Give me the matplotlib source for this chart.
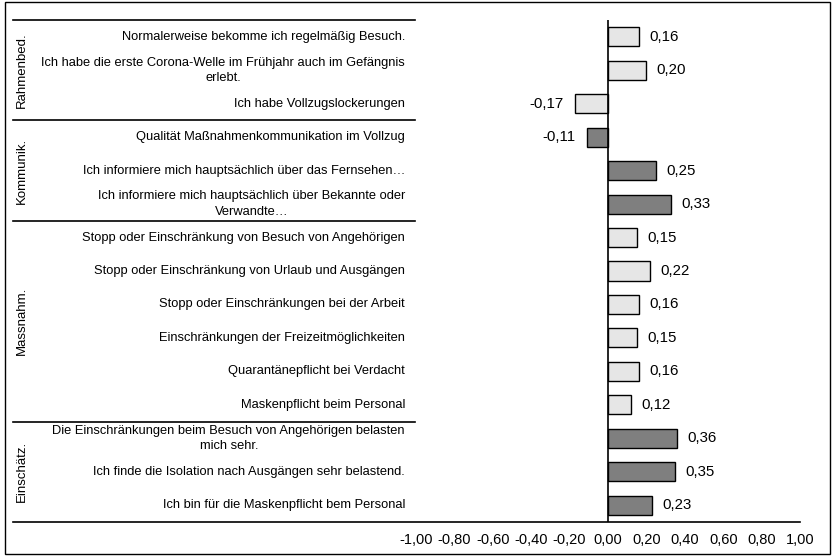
import matplotlib
matplotlib.use("Agg")
import matplotlib.pyplot as plt
import matplotlib.transforms as mtransforms
from matplotlib.patches import Rectangle
from matplotlib.lines import Line2D

plt.rcParams['font.family'] = ['Liberation Sans', 'DejaVu Sans']

labels = [
    "Normalerweise bekomme ich regelmäßig Besuch.",
    "Ich habe die erste Corona-Welle im Frühjahr auch im Gefängnis\nerlebt.",
    "Ich habe Vollzugslockerungen",
    "Qualität Maßnahmenkommunikation im Vollzug",
    "Ich informiere mich hauptsächlich über das Fernsehen…",
    "Ich informiere mich hauptsächlich über Bekannte oder\nVerwandte…",
    "Stopp oder Einschränkung von Besuch von Angehörigen",
    "Stopp oder Einschränkung von Urlaub und Ausgängen",
    "Stopp oder Einschränkungen bei der Arbeit",
    "Einschränkungen der Freizeitmöglichkeiten",
    "Quarantänepflicht bei Verdacht",
    "Maskenpflicht beim Personal",
    "Die Einschränkungen beim Besuch von Angehörigen belasten\nmich sehr.",
    "Ich finde die Isolation nach Ausgängen sehr belastend.",
    "Ich bin für die Maskenpflicht bem Personal",
]
values = [0.16, 0.20, -0.17, -0.11, 0.25, 0.33, 0.15, 0.22, 0.16, 0.15, 0.16, 0.12, 0.36, 0.35, 0.23]
groups = ["Rahmenbed.", "Kommunik.", "Massnahm.", "Einschätz."]
group_sizes = [3, 3, 6, 3]
group_colors = ["#e6e6e6", "#7f7f7f", "#e6e6e6", "#7f7f7f"]
xticks = [-1.0, -0.8, -0.6, -0.4, -0.2, 0.0, 0.2, 0.4, 0.6, 0.8, 1.0]

W, H = 836, 558
fig = plt.figure(figsize=(W / 100, H / 100), dpi=100)

ax_left, ax_right = 416 / W, 800 / W
ax_top, ax_bot = 1 - 20 / H, 1 - 522 / H
ax = fig.add_axes([ax_left, ax_bot, ax_right - ax_left, ax_top - ax_bot])

colors = []
for c, n in zip(group_colors, group_sizes):
    colors += [c] * n

n = len(values)
ypos = list(range(n))
ax.barh(ypos, values, height=0.57, color=colors, edgecolor="black", linewidth=1.0, zorder=2)
ax.set_xlim(-1, 1)
ax.set_ylim(n - 0.5, -0.5)
for s in ["top", "right", "left", "bottom"]:
    ax.spines[s].set_visible(False)
ax.axvline(0, color="black", linewidth=1.2, zorder=3)
ax.set_yticks([])
ax.set_xticks(xticks)
ax.set_xticklabels([f"{t:.2f}".replace(".", ",") for t in xticks], fontsize=10.5)
ax.tick_params(axis="x", length=0, pad=8)

for y, v in zip(ypos, values):
    txt = f"{v:.2f}".replace(".", ",")
    if v >= 0:
        ax.annotate(txt, (v, y), xytext=(7.5, 0), textcoords="offset points",
                    ha="left", va="center", fontsize=10.8)
    else:
        ax.annotate(txt, (v, y), xytext=(-8.5, 0), textcoords="offset points",
                    ha="right", va="center", fontsize=10.8)

trans = mtransforms.blended_transform_factory(fig.transFigure, ax.transData)

# category labels
for y, lab in zip(ypos, labels):
    ax.text(405 / W, y, lab, transform=trans,
            ha="right", va="center", multialignment="center", fontsize=9.25,
            linespacing=1.35)

# group lines and labels
start = 0
line_left = 13 / W
fig.add_artist(Line2D([line_left, 415 / W], [ax_top, ax_top], color="black", lw=1.2,
                      transform=fig.transFigure))
for g, sz in zip(groups, group_sizes):
    end = start + sz
    yb = end - 0.5
    ax.text(22 / W, (start - 0.5 + yb) / 2, g, transform=trans, rotation=90,
            ha="center", va="center", fontsize=9.5)
    if end < n:
        ax.add_line(Line2D([line_left, 415 / W], [yb, yb], color="black", lw=1.2,
                           transform=trans, clip_on=False))
    start = end
fig.add_artist(Line2D([line_left, ax_right], [ax_bot, ax_bot], color="black", lw=1.2,
                      transform=fig.transFigure))

# border
fig.add_artist(Rectangle((5 / W, 1 - 554 / H), 825 / W, 552 / H, fill=False,
                         edgecolor="black", lw=1.0, transform=fig.transFigure))

fig.savefig("out.png", dpi=100)
